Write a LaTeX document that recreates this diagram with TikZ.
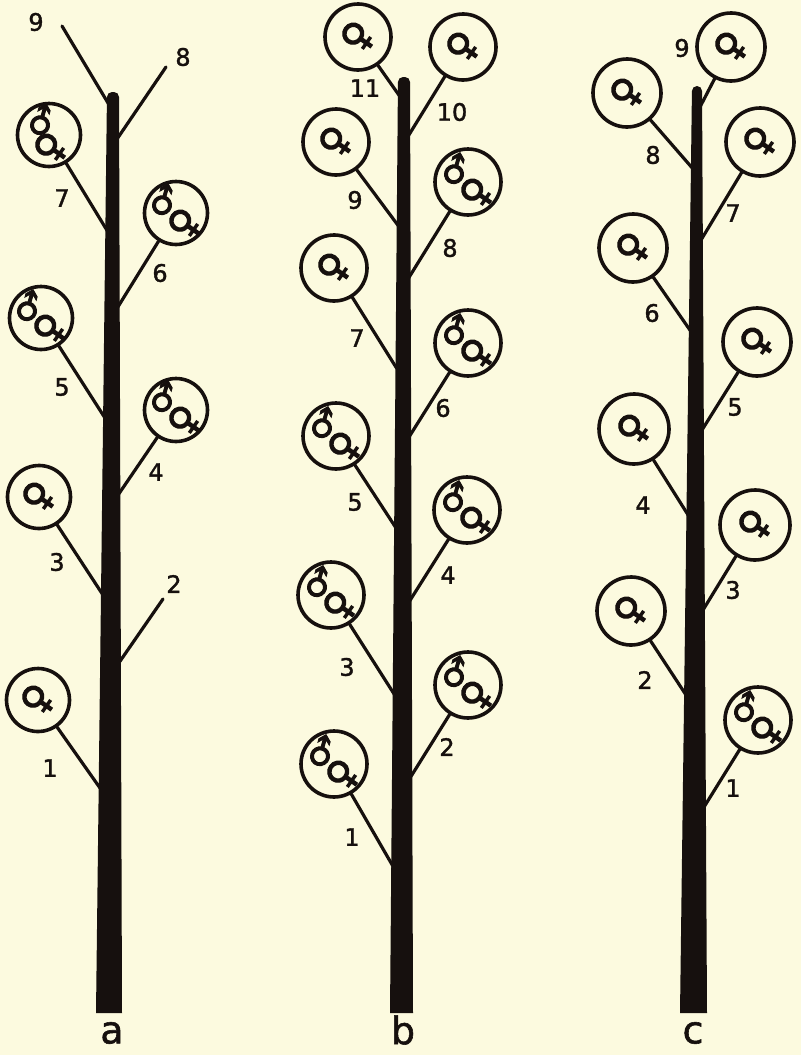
\documentclass[tikz,border=0pt]{standalone}
\usepackage{fontspec}
\setsansfont{DejaVu Sans}
\newfontfamily\symfont[FakeBold=3]{DejaVu Sans}
\newfontfamily\numfont[FakeBold=1.5]{DejaVu Sans}
\usetikzlibrary{calc}
\definecolor{paper}{HTML}{FCFADF}
\definecolor{ink}{HTML}{16100E}
\tikzset{
  every picture/.style={font=\sffamily, line width=3.4pt, draw=ink},
  flower/.style={circle, draw=ink, line width=3.6pt, minimum size=#1, inner sep=0pt},
  flower/.default=66pt,
  twig/.style={draw=ink, line width=3.2pt, line cap=round},
  stem/.style={fill=ink},
  fem/.style={font=\symfont\fontsize{38}{38}\selectfont, text=ink, rotate=55, inner sep=0pt},
  mal/.style={font=\symfont\fontsize{34}{34}\selectfont, text=ink, rotate=30, inner sep=0pt},
  num/.style={font=\numfont\fontsize{24}{24}\selectfont, text=ink, inner sep=0pt},
  tag/.style={font=\numfont\fontsize{38}{38}\selectfont, text=ink, inner sep=0pt},
}
\begin{document}
\begin{tikzpicture}[x=1pt, y=-1pt]
  \fill[paper] (0,0) rectangle (801,1055);
  \useasboundingbox (0,0) rectangle (801,1055);

  % stem a
  \coordinate (ta9) at (62,26);   \coordinate (sa9) at (111,108);
  \coordinate (ta8) at (166,67);  \coordinate (sa8) at (115,142);
  \coordinate (ta2) at (163,599); \coordinate (sa2) at (116,667);
  \node[flower=63pt] (a7) at (49,135) {};
  \node[mal] at ($(a7)+(-8,-14)$) {♂}; \node[fem] at ($(a7)+(2,13)$) {♀};
  \node[flower=63pt] (a6) at (176,213) {};
  \node[mal] at ($(a6)+(-13,-12)$) {♂}; \node[fem] at ($(a6)+(9,11)$) {♀};
  \node[flower=63pt] (a5) at (41,318) {};
  \node[mal] at ($(a5)+(-13,-11)$) {♂}; \node[fem] at ($(a5)+(9,11)$) {♀};
  \node[flower=63pt] (a4) at (176,410) {};
  \node[mal] at ($(a4)+(-13,-12)$) {♂}; \node[fem] at ($(a4)+(9,11)$) {♀};
  \node[flower=63pt, fem] (a3) at (39,497) {♀};
  \node[flower=63pt, fem] (a1) at (38,700) {♀};
  \coordinate (sa7) at (108,232); \coordinate (sa6) at (116,310);
  \coordinate (sa5) at (105,418); \coordinate (sa4) at (116,498);
  \coordinate (sa3) at (103,595); \coordinate (sa1) at (100,788);
  \draw[twig] (ta9) -- (sa9); \draw[twig] (ta8) -- (sa8);
  \draw[twig] (a7) -- (sa7); \draw[twig] (a6) -- (sa6);
  \draw[twig] (a5) -- (sa5); \draw[twig] (a4) -- (sa4);
  \draw[twig] (a3) -- (sa3); \draw[twig] (ta2) -- (sa2);
  \draw[twig] (a1) -- (sa1);
  \fill[stem] (96,1013) [rounded corners=5pt] -- (107,92) -- (119,92) [sharp corners] -- (122,1013) -- cycle;
  \node[num] (na9) at (36,22) {9};   \node[num] (na8) at (183,57) {8};
  \node[num] (na7) at (62,198) {7};  \node[num] (na6) at (160,273) {6};
  \node[num] (na5) at (62,387) {5};  \node[num] (na4) at (156,472) {4};
  \node[num] (na3) at (57,562) {3};  \node[num] (na2) at (174,584) {2};
  \node[num] (na1) at (50,768) {1};
  \node[tag] (taga) at (112,1033) {a};

  % stem b
  \node[flower, fem] (b11) at (358,37) {♀};
  \node[flower, fem] (b10) at (463,47) {♀};
  \node[flower, fem] (b9) at (336,142) {♀};
  \node[flower] (b8) at (468,182) {};
  \node[mal] at ($(b8)+(-13,-12)$) {♂}; \node[fem] at ($(b8)+(9,11)$) {♀};
  \node[flower, fem] (b7) at (334,268) {♀};
  \node[flower] (b6) at (468,343) {};
  \node[mal] at ($(b6)+(-13,-12)$) {♂}; \node[fem] at ($(b6)+(9,11)$) {♀};
  \node[flower] (b5) at (336,436) {};
  \node[mal] at ($(b5)+(-13,-12)$) {♂}; \node[fem] at ($(b5)+(9,11)$) {♀};
  \node[flower] (b4) at (467,510) {};
  \node[mal] at ($(b4)+(-13,-12)$) {♂}; \node[fem] at ($(b4)+(9,11)$) {♀};
  \node[flower] (b3) at (331,595) {};
  \node[mal] at ($(b3)+(-13,-12)$) {♂}; \node[fem] at ($(b3)+(9,11)$) {♀};
  \node[flower] (b2) at (468,685) {};
  \node[mal] at ($(b2)+(-13,-12)$) {♂}; \node[fem] at ($(b2)+(9,11)$) {♀};
  \node[flower] (b1) at (334,764) {};
  \node[mal] at ($(b1)+(-13,-12)$) {♂}; \node[fem] at ($(b1)+(9,11)$) {♀};
  \coordinate (sb11) at (401,98);  \coordinate (sb10) at (407,138);
  \coordinate (sb9) at (400,228);  \coordinate (sb8) at (408,279);
  \coordinate (sb7) at (399,372);  \coordinate (sb6) at (409,437);
  \coordinate (sb5) at (398,531);  \coordinate (sb4) at (409,602);
  \coordinate (sb3) at (396,697);  \coordinate (sb2) at (410,778);
  \coordinate (sb1) at (394,868);
  \draw[twig] (b11) -- (sb11); \draw[twig] (b10) -- (sb10);
  \draw[twig] (b9) -- (sb9);   \draw[twig] (b8) -- (sb8);
  \draw[twig] (b7) -- (sb7);   \draw[twig] (b6) -- (sb6);
  \draw[twig] (b5) -- (sb5);   \draw[twig] (b4) -- (sb4);
  \draw[twig] (b3) -- (sb3);   \draw[twig] (b2) -- (sb2);
  \draw[twig] (b1) -- (sb1);
  \fill[stem] (390,1013) [rounded corners=5pt] -- (398,77) -- (410,77) [sharp corners] -- (413,1013) -- cycle;
  \node[num] (nb11) at (365,88) {11}; \node[num] (nb10) at (452,112) {10};
  \node[num] (nb9) at (355,200) {9};  \node[num] (nb8) at (450,248) {8};
  \node[num] (nb7) at (357,338) {7};  \node[num] (nb6) at (443,408) {6};
  \node[num] (nb5) at (355,502) {5};  \node[num] (nb4) at (448,575) {4};
  \node[num] (nb3) at (347,667) {3};  \node[num] (nb2) at (447,747) {2};
  \node[num] (nb1) at (352,837) {1};
  \node[tag] (tagb) at (403,1030) {b};

  % stem c
  \node[flower=68pt, fem] (c9) at (731,47) {♀};
  \node[flower=68pt, fem] (c8) at (627,93) {♀};
  \node[flower=68pt, fem] (c7) at (760,142) {♀};
  \node[flower=68pt, fem] (c6) at (633,248) {♀};
  \node[flower=68pt, fem] (c5) at (757,342) {♀};
  \node[flower=70pt, fem] (c4) at (634,429) {♀};
  \node[flower=70pt, fem] (c3) at (755,525) {♀};
  \node[flower=68pt, fem] (c2) at (631,611) {♀};
  \node[flower=66pt] (c1) at (758,720) {};
  \node[mal] at ($(c1)+(-13,-12)$) {♂}; \node[fem] at ($(c1)+(9,11)$) {♀};
  \coordinate (sc9) at (700,107); \coordinate (sc8) at (694,170);
  \coordinate (sc7) at (701,240); \coordinate (sc6) at (692,333);
  \coordinate (sc5) at (702,430); \coordinate (sc4) at (690,518);
  \coordinate (sc3) at (703,610); \coordinate (sc2) at (688,698);
  \coordinate (sc1) at (704,807);
  \draw[twig] (c9) -- (sc9); \draw[twig] (c8) -- (sc8);
  \draw[twig] (c7) -- (sc7); \draw[twig] (c6) -- (sc6);
  \draw[twig] (c5) -- (sc5); \draw[twig] (c4) -- (sc4);
  \draw[twig] (c3) -- (sc3); \draw[twig] (c2) -- (sc2);
  \draw[twig] (c1) -- (sc1);
  \fill[stem] (680,1013) [rounded corners=5pt] -- (692,86) -- (702,86) [sharp corners] -- (707,1013) -- cycle;
  \node[num] (nc9) at (682,48) {9};  \node[num] (nc8) at (653,155) {8};
  \node[num] (nc7) at (733,213) {7}; \node[num] (nc6) at (652,313) {6};
  \node[num] (nc5) at (735,407) {5}; \node[num] (nc4) at (643,505) {4};
  \node[num] (nc3) at (733,590) {3}; \node[num] (nc2) at (645,680) {2};
  \node[num] (nc1) at (733,788) {1};
  \node[tag] (tagc) at (693,1033) {c};
\end{tikzpicture}
\end{document}
